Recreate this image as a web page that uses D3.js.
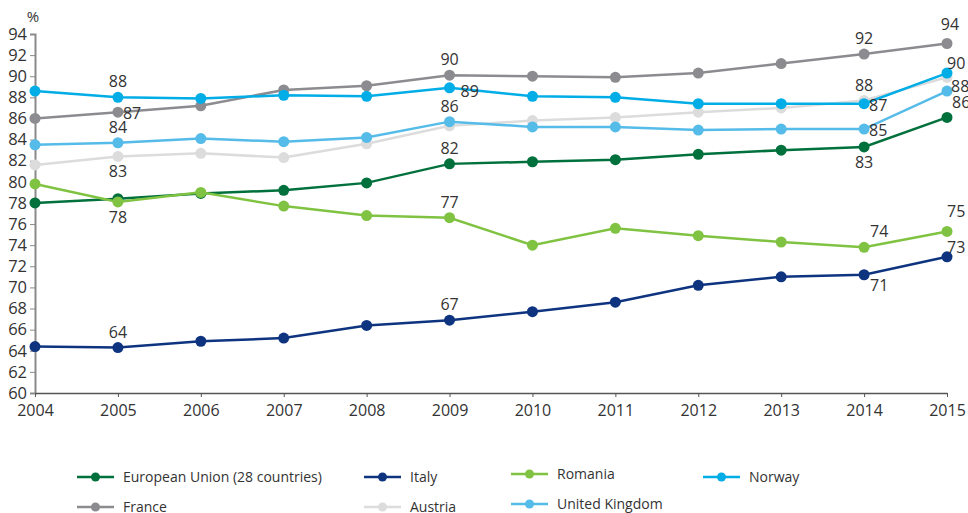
<!DOCTYPE html>
<html>
<head>
<meta charset="utf-8">
<script src="https://cdn.jsdelivr.net/npm/d3@7"></script>
<style>
  body { margin: 0; background: #fff; }
  svg { font-family: "Open Sans", sans-serif; }
</style>
</head>
<body>
<svg id="chart" width="968" height="513"></svg>
<script>
// years on the x axis
var years = [2004, 2005, 2006, 2007, 2008, 2009, 2010, 2011, 2012, 2013, 2014, 2015];
var yTicks = [60, 62, 64, 66, 68, 70, 72, 74, 76, 78, 80, 82, 84, 86, 88, 90, 92, 94];

// series values (%)
var euValues      = [78.0, 78.4, 78.9, 79.2, 79.9, 81.7, 81.9, 82.1, 82.6, 83.0, 83.3, 86.1];
var italyValues   = [64.4, 64.3, 64.9, 65.2, 66.4, 66.9, 67.7, 68.6, 70.2, 71.0, 71.2, 72.9];
var romaniaValues = [79.8, 78.1, 79.0, 77.7, 76.8, 76.6, 74.0, 75.6, 74.9, 74.3, 73.8, 75.3];
var norwayValues  = [88.6, 88.0, 87.9, 88.2, 88.1, 88.9, 88.1, 88.0, 87.4, 87.4, 87.4, 90.3];
var franceValues  = [86.0, 86.6, 87.2, 88.7, 89.1, 90.1, 90.0, 89.9, 90.3, 91.2, 92.1, 93.1];
var austriaValues = [81.6, 82.4, 82.7, 82.3, 83.6, 85.3, 85.8, 86.1, 86.6, 87.0, 87.7, 89.9];
var ukValues      = [83.5, 83.7, 84.1, 83.8, 84.2, 85.7, 85.2, 85.2, 84.9, 85.0, 85.0, 88.6];

// value labels shown on the chart: [series, year, text, place]
var valueLabels = [
  ["eu", 2009, "82", "above"], ["eu", 2014, "83", "below"], ["eu", 2015, "86", "upright"],
  ["italy", 2005, "64", "above"], ["italy", 2009, "67", "above"], ["italy", 2014, "71", "downright"], ["italy", 2015, "73", "corner"],
  ["romania", 2005, "78", "below"], ["romania", 2009, "77", "above"], ["romania", 2014, "74", "upright14"], ["romania", 2015, "75", "high"],
  ["norway", 2005, "88", "above"], ["norway", 2009, "89", "farright"], ["norway", 2014, "87", "right"], ["norway", 2015, "90", "corner"],
  ["france", 2005, "87", "right"], ["france", 2009, "90", "above"], ["france", 2014, "92", "above"], ["france", 2015, "94", "aboveshift"],
  ["austria", 2005, "83", "below"], ["austria", 2014, "88", "above"],
  ["uk", 2005, "84", "above"], ["uk", 2009, "86", "above"], ["uk", 2014, "85", "right"], ["uk", 2015, "88", "edge"]
];

var series = [
  {key: "eu", name: "European Union (28 countries)", color: "#00703c", values: euValues},
  {key: "italy", name: "Italy", color: "#0e3480", values: italyValues},
  {key: "romania", name: "Romania", color: "#80c342", values: romaniaValues},
  {key: "norway", name: "Norway", color: "#00ade6", values: norwayValues},
  {key: "france", name: "France", color: "#8c8c90", values: franceValues},
  {key: "austria", name: "Austria", color: "#dcdcdc", values: austriaValues},
  {key: "uk", name: "United Kingdom", color: "#55bbe8", values: ukValues}
];
var drawOrder = ["france", "austria", "eu", "italy", "romania", "uk", "norway"];

var svg = d3.select("#chart");
var x = d3.scaleLinear().domain([2004, 2015]).range([35, 947]);
var y = d3.scaleLinear().domain([60, 94]).range([393, 34]);

// y axis
var yAxis = svg.append("g")
  .attr("transform", "translate(35,0)")
  .call(d3.axisLeft(y).tickValues(yTicks).tickSize(5).tickPadding(3));
yAxis.select(".domain").attr("stroke", "#8a8a8a").attr("stroke-width", 2);
yAxis.selectAll(".tick line").attr("stroke", "#8a8a8a");
yAxis.selectAll("text").attr("fill", "#333").style("font-size", "16.5px").style("font-family", "Open Sans");

// x axis
var xAxis = svg.append("g")
  .attr("transform", "translate(0,393)")
  .call(d3.axisBottom(x).tickValues(years).tickFormat(d3.format("d")).tickSize(4).tickSizeOuter(0).tickPadding(8));
xAxis.select(".domain").attr("stroke", "#555").attr("stroke-width", 1.5);
xAxis.selectAll(".tick line").attr("stroke", "#555");
xAxis.selectAll("text").attr("fill", "#333").style("font-size", "16px").style("font-family", "Open Sans");

svg.append("text").attr("x", 33).attr("y", 22).attr("text-anchor", "middle")
  .attr("fill", "#333").style("font-size", "15px").text("%");

var line = d3.line()
  .x(function(d, i) { return x(years[i]); })
  .y(function(d) { return y(d); });

var byKey = {};
series.forEach(function(s) { byKey[s.key] = s; });

drawOrder.forEach(function(k) {
  var s = byKey[k];
  var g = svg.append("g");
  g.append("path").datum(s.values)
    .attr("d", line)
    .attr("fill", "none")
    .attr("stroke", s.color)
    .attr("stroke-width", 2.5);
  g.selectAll("circle").data(s.values).enter().append("circle")
    .attr("cx", function(d, i) { return x(years[i]); })
    .attr("cy", function(d) { return y(d); })
    .attr("r", 5.5)
    .attr("fill", s.color);
});

// value labels, placement relative to the point
var offsets = {
  above: [0, -10, "middle"],
  aboveshift: [3, -14, "middle"],
  below: [0, 21, "middle"],
  right: [5, 7, "start"],
  farright: [11, 9, "start"],
  upright: [5, -9, "start"],
  upright14: [6, -10, "start"],
  downright: [6, 16, "start"],
  corner: [0, -4, "start"],
  high: [0, -14, "start"],
  edge: [4, 1, "start"]
};
valueLabels.forEach(function(l) {
  var s = byKey[l[0]];
  var v = s.values[years.indexOf(l[1])];
  var o = offsets[l[3]];
  svg.append("text")
    .attr("x", x(l[1]) + o[0])
    .attr("y", y(v) + o[1])
    .attr("text-anchor", o[2])
    .attr("fill", "#333")
    .style("font-size", "16px")
    .text(l[2]);
});

// legend
var legendCols = [77, 364, 511, 703];
var legendColShift = [0, 0, -3, 0];
var legendRows = [477, 507];
var legend = svg.append("g");
series.forEach(function(s, i) {
  var c = i % 4;
  var lx = legendCols[c], ly = legendRows[Math.floor(i / 4)] + legendColShift[c];
  var item = legend.append("g").attr("transform", "translate(" + lx + "," + ly + ")");
  item.append("line").attr("x1", 0).attr("x2", 37).attr("y1", 0).attr("y2", 0)
    .attr("stroke", s.color).attr("stroke-width", 2.5);
  item.append("circle").attr("cx", 18.5).attr("cy", 0).attr("r", 4.5).attr("fill", s.color);
  item.append("text").attr("x", 46).attr("y", 5)
    .attr("fill", "#333").style("font-size", "14px").text(s.name);
});
</script>
</body>
</html>
